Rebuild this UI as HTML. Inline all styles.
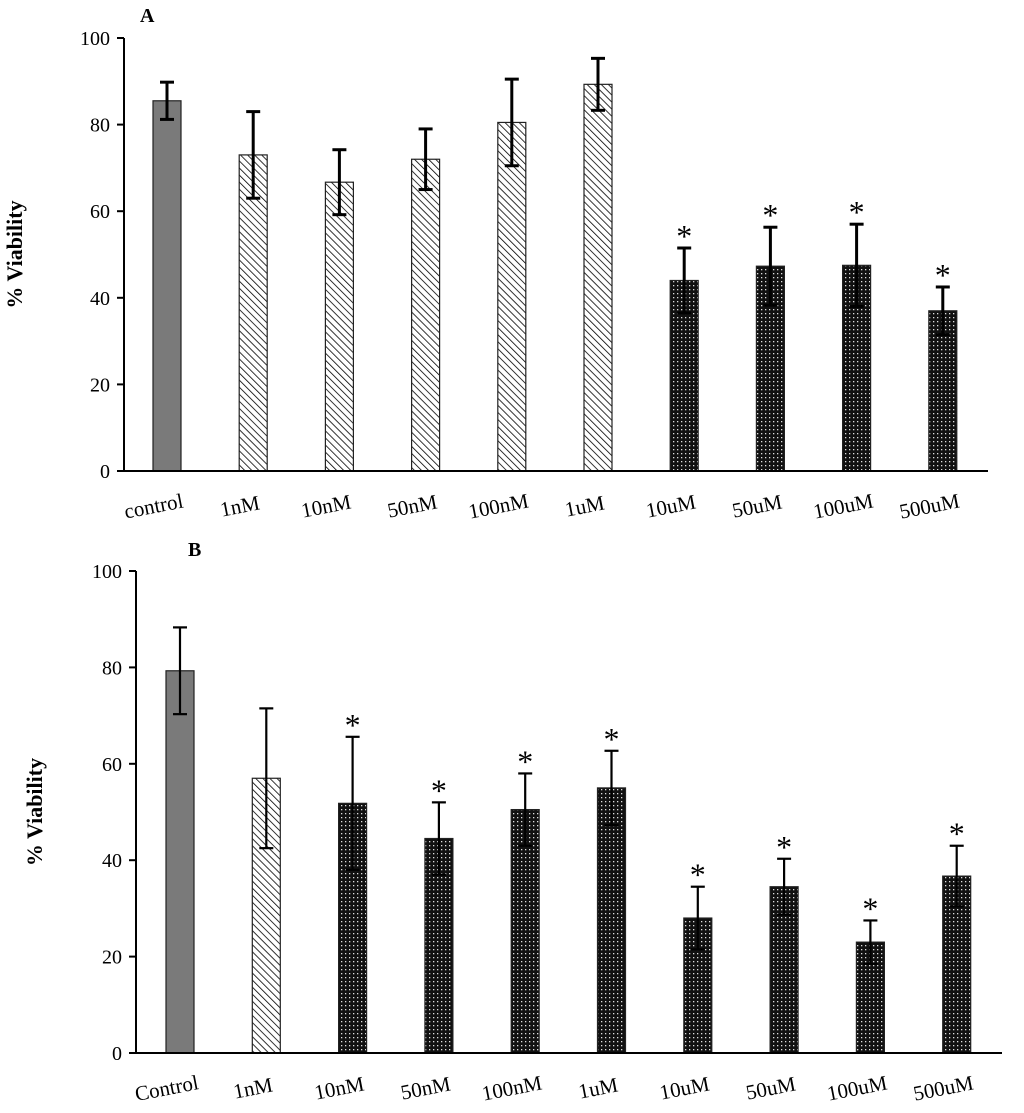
<!DOCTYPE html>
<html><head><meta charset="utf-8">
<style>
html,body{margin:0;padding:0;background:#fff;}
svg{display:block;font-family:"Liberation Serif",serif;}
</style></head>
<body>
<svg id="chart" width="1024" height="1113" viewBox="0 0 1024 1113" xmlns="http://www.w3.org/2000/svg">
<defs>
<pattern id="hatch" patternUnits="userSpaceOnUse" width="5" height="5" patternTransform="rotate(-45)">
<rect width="5" height="5" fill="#fff"/>
<line x1="0" y1="0" x2="0" y2="5" stroke="#000" stroke-width="1.6"/>
</pattern>
<pattern id="dots" patternUnits="userSpaceOnUse" width="4" height="4">
<rect width="4" height="4" fill="#111"/>
<rect x="1" y="1" width="1.3" height="1.3" fill="#ddd"/>
</pattern>
</defs>
<g id="panelA"></g>
<g id="panelB"></g>
</svg>
<script>
const categoriesA = ["control","1nM","10nM","50nM","100nM","1uM","10uM","50uM","100uM","500uM"];
const valuesA = [85.5,73,66.7,72,80.5,89.3,44,47.3,47.5,37];
const errorsA = [4.3,10,7.5,7,10,6,7.5,9,9.5,5.5];
const fillsA = ["gray","hatch","hatch","hatch","hatch","hatch","dots","dots","dots","dots"];
const starsA = [0,0,0,0,0,0,1,1,1,1];

const categoriesB = ["Control","1nM","10nM","50nM","100nM","1uM","10uM","50uM","100uM","500uM"];
const valuesB = [79.3,57,51.8,44.5,50.5,55,28,34.5,23,36.7];
const errorsB = [9,14.5,13.8,7.5,7.5,7.7,6.5,5.8,4.5,6.3];
const fillsB = ["gray","hatch","dots","dots","dots","dots","dots","dots","dots","dots"];
const starsB = [0,0,1,1,1,1,1,1,1,1];

const yTicks = [0,20,40,60,80,100];

const NS = "http://www.w3.org/2000/svg";
function mk(tag, attrs, parent){
  const e = document.createElementNS(NS, tag);
  for (const k in attrs) e.setAttribute(k, attrs[k]);
  parent.appendChild(e);
  return e;
}
function draw(g, cfg, cats, vals, errs, fills, stars){
  const y = v => cfg.y0 - (cfg.y0 - cfg.y100) * v / 100;
  const x = i => cfg.first + i * cfg.step;
  const L = mk("text",{x:cfg.letterX,y:cfg.letterY,"font-size":20,"font-weight":"bold"},g);
  
  
  L.textContent = cfg.letter;
  const t = mk("text",{x:0,y:0,"font-size":22,"font-weight":"bold","text-anchor":"middle",transform:`translate(${cfg.titleX},${(cfg.y0+cfg.y100)/2}) rotate(-90)`},g);
  
  
  t.textContent = "% Viability";
  cats.forEach((c,i)=>{
    const cx = x(i);
    const fill = fills[i]==="gray" ? "#7a7a7a" : (fills[i]==="hatch" ? "url(#hatch)" : "url(#dots)");
    const b = mk("rect",{x:cx-cfg.bw/2,y:y(vals[i]),width:cfg.bw,height:y(0)-y(vals[i]),fill:fill,stroke:"#222","stroke-width":1.2},g);
    
    
    const eg = mk("g",{stroke:"#000","stroke-width":cfg.ew},g);
    
    
    const top = y(vals[i]+errs[i]), bot = y(vals[i]-errs[i]);
    mk("line",{x1:cx,x2:cx,y1:top,y2:bot},eg);
    mk("line",{x1:cx-7,x2:cx+7,y1:top,y2:top},eg);
    mk("line",{x1:cx-7,x2:cx+7,y1:bot,y2:bot},eg);
    if (stars[i]) {
      const s = mk("text",{x:cx,y:top-1,"font-size":32,"text-anchor":"middle"},g);
      
      
      s.textContent = "*";
    }
    const lab = mk("text",{x:0,y:0,"font-size":21,"text-anchor":"middle",transform:`translate(${cx-12},${cfg.y0+cfg.labOff}) rotate(-11)`},g);
    
    
    lab.textContent = c;
  });
  const ax = mk("g",{stroke:"#000","stroke-width":2,fill:"none"},g);
  
  
  mk("line",{x1:cfg.ax,x2:cfg.ax,y1:cfg.y100,y2:cfg.y0},ax);
  mk("line",{x1:cfg.ax-7,x2:cfg.xEnd,y1:cfg.y0,y2:cfg.y0},ax);
  yTicks.forEach(v=>{
    mk("line",{x1:cfg.ax-7,x2:cfg.ax,y1:y(v),y2:y(v)},ax);
    const tl = mk("text",{x:cfg.ax-14,y:y(v)+7,"font-size":20,"text-anchor":"end"},g);
    
    
    tl.textContent = v;
  });
}
draw(document.getElementById("panelA"),
  {y0:471,y100:38,first:167,step:86.2,bw:28,ew:3,ax:124,xEnd:988,letter:"A",letterX:140,letterY:22,titleX:22,labOff:42},
  categoriesA,valuesA,errorsA,fillsA,starsA);
draw(document.getElementById("panelB"),
  {y0:1053,y100:571,first:180,step:86.3,bw:28,ew:2.2,ax:136,xEnd:1002,letter:"B",letterX:188,letterY:556,titleX:42,labOff:42},
  categoriesB,valuesB,errorsB,fillsB,starsB);
</script>
</body></html>
